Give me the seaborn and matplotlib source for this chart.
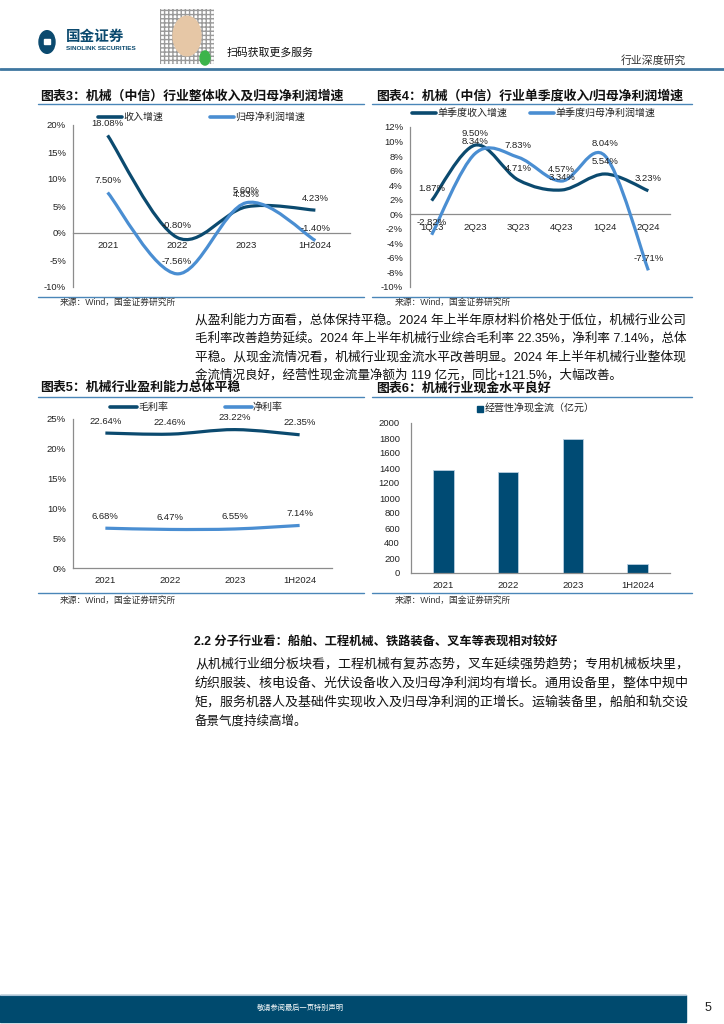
import numpy as np
import pandas as pd
import matplotlib
matplotlib.use("Agg")
import matplotlib.pyplot as plt
import seaborn as sns
from matplotlib.path import Path
from matplotlib.patches import PathPatch, Rectangle, Circle
from matplotlib.lines import Line2D

# chart data
years = ["2021", "2022", "2023", "1H2024"]
rev_growth = [18.08, -0.80, 4.83, 4.23]
profit_growth = [7.50, -7.56, 5.60, -1.40]

quarters = ["1Q23", "2Q23", "3Q23", "4Q23", "1Q24", "2Q24"]
q_rev_growth = [1.87, 9.50, 4.71, 3.34, 5.54, 3.23]
q_profit_growth = [-2.82, 8.34, 7.83, 4.57, 8.04, -7.71]

gross_margin = [22.64, 22.46, 23.22, 22.35]
net_margin = [6.68, 6.47, 6.55, 7.14]

cash_flow = [1375, 1353, 1790, 119]

DARK = "#0b4a6f"
LIGHT = "#4a8ed2"
BAR = "#004b74"
RULE = "#4a86b8"

sns.set_style("white")
plt.rcParams["font.family"] = ["Liberation Sans", "Noto Sans CJK SC", "DejaVu Sans"]

W, H = 724, 1024
fig = plt.figure(figsize=(7.24, 10.24), dpi=100)
renderer = fig.canvas.get_renderer()


def fx(x):
    return x / W


def fy(y):
    return 1 - y / H


def add_ax(x0, y0, x1, y1):
    return fig.add_axes([fx(x0), fy(y1), (x1 - x0) / W, (y1 - y0) / H])


def hline(x0, x1, y, color=RULE, lw=1.0):
    fig.add_artist(Line2D([fx(x0), fx(x1)], [fy(y), fy(y)], color=color, lw=lw))


def txt(x, y, s, size=9, **kw):
    return fig.text(fx(x), fy(y), s, fontsize=size, va="center", **kw)


def para_line(x0, x1, y, s, size=9.0, justify=True):
    # fit full lines to the column width, like justified text
    t = txt(x0, y, s, size=size, color="#111111")
    if justify:
        w = t.get_window_extent(renderer).width
        t.set_fontsize(size * (x1 - x0) / w)


def smooth(ax, ys, color):
    # smoothed line through the points (bezier, catmull-rom style)
    pts = np.column_stack([np.arange(len(ys)) + 0.5, ys]).astype(float)
    n = len(pts)
    verts = [pts[0]]
    codes = [Path.MOVETO]
    for i in range(n - 1):
        p0, p1 = pts[max(i - 1, 0)], pts[i]
        p2, p3 = pts[i + 1], pts[min(i + 2, n - 1)]
        verts += [p1 + (p2 - p0) / 6, p2 - (p3 - p1) / 6, p2]
        codes += [Path.CURVE4] * 3
    ax.add_patch(PathPatch(Path(verts, codes), fill=False, edgecolor=color,
                           lw=2.3, capstyle="butt", zorder=3))


def labels(ax, ys, dy=12):
    for i, v in enumerate(ys):
        ax.annotate(f"{v:.2f}%", (i + 0.5, v), xytext=(0, dy), textcoords="offset pixels",
                    ha="center", va="center", fontsize=6.8, color="#222222", zorder=4)


def style(ax, cats, ylim, yticks, ylabels, ylen=0):
    n = len(cats)
    ax.set_xlim(0, n)
    ax.set_ylim(*ylim)
    ax.patch.set_alpha(0)
    for s in ["top", "right"]:
        ax.spines[s].set_visible(False)
    for s in ["left", "bottom"]:
        ax.spines[s].set_color("#8c8c8c")
        ax.spines[s].set_linewidth(0.9)
    ax.spines["bottom"].set_position(("data", 0))
    ax.set_xticks(np.arange(n) + 0.5)
    ax.set_xticklabels(cats)
    ax.set_xticks(np.arange(n + 1), minor=True)
    ax.tick_params(axis="x", which="major", length=0, pad=6, labelsize=6.8, labelcolor="#222222")
    ax.tick_params(axis="x", which="minor", length=3, width=0.8, color="#555555", direction="out")
    ax.set_yticks(yticks)
    ax.set_yticklabels(ylabels)
    ax.tick_params(axis="y", length=ylen, width=0.8, color="#555555", pad=5,
                   labelsize=6.8, labelcolor="#222222")
    ax.set_xlabel("")
    ax.set_ylabel("")


def legend_line(x, y, label, color, length=24):
    fig.add_artist(Line2D([fx(x), fx(x + length)], [fy(y), fy(y)], color=color, lw=2.6))
    txt(x + length + 1, y, label, size=7.2, color="#222222")


# ---------- header ----------
fig.add_artist(Circle((fx(47), fy(42)), 8 / W, transform=fig.transFigure, color=DARK))
fig.add_artist(Rectangle((fx(44), fy(44)), 6 / W, 5 / H, transform=fig.transFigure, color="white"))
txt(66, 37, "国金证券", size=10.5, weight="bold", color=DARK)
txt(66, 48, "SINOLINK SECURITIES", size=4.6, weight="bold", color=DARK)
fig.add_artist(Rectangle((fx(160), fy(64)), 54 / W, 55 / H, transform=fig.transFigure,
                         facecolor="white", edgecolor="#9a9a9a", hatch="++++", lw=0.0))
fig.add_artist(Circle((fx(187), fy(36)), 14 / W, transform=fig.transFigure, color="#e6c7a6"))
fig.add_artist(Circle((fx(205), fy(58)), 5 / W, transform=fig.transFigure, color="#3cb44b"))
txt(227, 53, "扫码获取更多服务", size=7.8, color="#111111")
txt(621, 60, "行业深度研究", size=7.8, color="#333333")
hline(0, W, 69, color="#3f77a0", lw=2.0)

# ---------- titles and rules ----------
txt(40, 96, "图表3：机械（中信）行业整体收入及归母净利润增速", size=9.3, weight="bold", color="#111111")
txt(376, 96, "图表4：机械（中信）行业单季度收入/归母净利润增速", size=9.3, weight="bold", color="#111111")
hline(38, 364, 104)
hline(372, 692, 104)
hline(38, 364, 297)
hline(372, 692, 297)
txt(60, 302, "来源：Wind，国金证券研究所", size=6.3, color="#333333")
txt(395, 302, "来源：Wind，国金证券研究所", size=6.3, color="#333333")

txt(40, 388, "图表5：机械行业盈利能力总体平稳", size=9.3, weight="bold", color="#111111")
txt(376, 388, "图表6：机械行业现金水平良好", size=9.3, weight="bold", color="#111111")
hline(38, 364, 397)
hline(372, 692, 397)
hline(38, 364, 593)
hline(372, 692, 593)
txt(60, 600, "来源：Wind，国金证券研究所", size=6.3, color="#333333")
txt(395, 600, "来源：Wind，国金证券研究所", size=6.3, color="#333333")

# ---------- chart 3 ----------
ax3 = add_ax(73, 125, 350, 287)
style(ax3, years, (-10, 20), [-10, -5, 0, 5, 10, 15, 20],
      ["-10%", "-5%", "0%", "5%", "10%", "15%", "20%"])
smooth(ax3, rev_growth, DARK)
smooth(ax3, profit_growth, LIGHT)
labels(ax3, rev_growth)
labels(ax3, profit_growth)
legend_line(98, 117, "收入增速", DARK)
legend_line(210, 117, "归母净利润增速", LIGHT)

# ---------- chart 4 ----------
ax4 = add_ax(410, 127, 670, 287)
style(ax4, quarters, (-10, 12), list(range(-10, 13, 2)),
      [f"{v}%" for v in range(-10, 13, 2)])
smooth(ax4, q_rev_growth, DARK)
smooth(ax4, q_profit_growth, LIGHT)
labels(ax4, q_rev_growth)
labels(ax4, q_profit_growth)
legend_line(412, 113, "单季度收入增速", DARK)
legend_line(530, 113, "单季度归母净利润增速", LIGHT)

# ---------- chart 5 ----------
ax5 = add_ax(73, 419, 332, 568)
style(ax5, years, (0, 25), [0, 5, 10, 15, 20, 25], ["0%", "5%", "10%", "15%", "20%", "25%"])
smooth(ax5, gross_margin, DARK)
smooth(ax5, net_margin, LIGHT)
labels(ax5, gross_margin)
labels(ax5, net_margin)
legend_line(110, 407, "毛利率", DARK, length=27)
legend_line(225, 407, "净利率", LIGHT, length=27)

# ---------- chart 6 ----------
ax6 = add_ax(411, 423, 670, 573)
df6 = pd.DataFrame({"year": years, "cash": cash_flow})
sns.barplot(data=df6, x="year", y="cash", color=BAR, width=0.32, ax=ax6,
            edgecolor="#b9cfe0", linewidth=0.6, saturation=1)
for p in ax6.patches:
    p.set_x(p.get_x() + 0.5)
style(ax6, years, (0, 2000), list(range(0, 2001, 200)), [str(v) for v in range(0, 2001, 200)], ylen=3)
fig.add_artist(Rectangle((fx(477), fy(412)), 6 / W, 6 / H, transform=fig.transFigure, color=BAR))
txt(485, 409, "经营性净现金流（亿元）", size=7.2, color="#222222")

# ---------- body text ----------
para1 = [
    "从盈利能力方面看，总体保持平稳。2024 年上半年原材料价格处于低位，机械行业公司",
    "毛利率改善趋势延续。2024 年上半年机械行业综合毛利率 22.35%，净利率 7.14%，总体",
    "平稳。从现金流情况看，机械行业现金流水平改善明显。2024 年上半年机械行业整体现",
    "金流情况良好，经营性现金流量净额为 119 亿元，同比+121.5%，大幅改善。",
]
for i, line in enumerate(para1):
    para_line(195, 688, 320 + i * 18.5, line, justify=i < len(para1) - 1)

txt(194, 643, "2.2 分子行业看：船舶、工程机械、铁路装备、叉车等表现相对较好", size=8.8,
    weight="bold", color="#111111")
para2 = [
    "从机械行业细分板块看，工程机械有复苏态势，叉车延续强势趋势；专用机械板块里，",
    "纺织服装、核电设备、光伏设备收入及归母净利润均有增长。通用设备里，整体中规中",
    "矩，服务机器人及基础件实现收入及归母净利润的正增长。运输装备里，船舶和轨交设",
    "备景气度持续高增。",
]
for i, line in enumerate(para2):
    para_line(195, 688, 664 + i * 19, line, justify=i < len(para2) - 1)

# ---------- footer ----------
fig.add_artist(Rectangle((0, fy(1022)), 686 / W, 27 / H, transform=fig.transFigure, color="#004a6e"))
hline(0, 686, 995, color="#a9c2d6", lw=0.8)
txt(300, 1008, "敬请参阅最后一页特别声明", size=5.2, color="white", ha="center")
txt(708, 1008, "5", size=9, color="#222222", ha="center")

fig.savefig("out.png", dpi=100)
